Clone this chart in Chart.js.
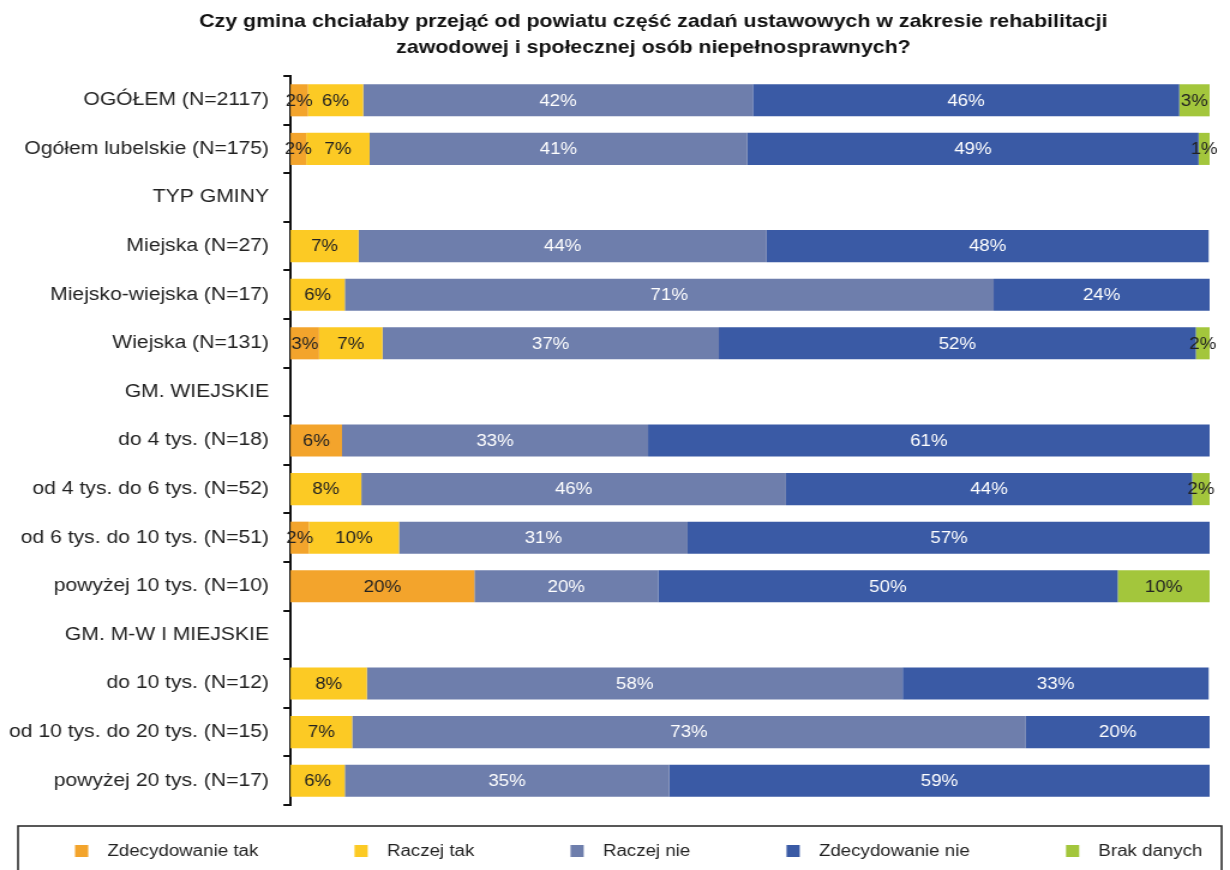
<html>
<head>
    <script src="https://cdn.jsdelivr.net/npm/chart.js"></script>
    <style>
        body { margin: 0; background: #fff; overflow: hidden; }
        /* the reference is drawn a little wide, so the canvas is stretched */
        #myChart { transform: scaleX(1.2); transform-origin: 0 0; }
    </style>
</head>
<body>
    <canvas id="myChart" width="1025" height="870"></canvas>

    <script>
        // categories (empty rows are group headers)
        const categories = [
            'OGÓŁEM (N=2117)',
            'Ogółem lubelskie (N=175)',
            'TYP GMINY',
            'Miejska (N=27)',
            'Miejsko-wiejska (N=17)',
            'Wiejska (N=131)',
            'GM. WIEJSKIE',
            'do 4 tys. (N=18)',
            'od 4 tys. do 6 tys. (N=52)',
            'od 6 tys. do 10 tys. (N=51)',
            'powyżej 10 tys. (N=10)',
            'GM. M-W I MIEJSKIE',
            'do 10 tys. (N=12)',
            'od 10 tys. do 20 tys. (N=15)',
            'powyżej 20 tys. (N=17)'
        ];

        // percent values
        const zdecydowanieTak = [1.9, 1.7, null, 0, 0, 3.1, null, 5.6, 0, 2.0, 20, null, 0, 0, 0];
        const raczejTak = [6.0, 6.9, null, 7.4, 5.9, 6.9, null, 0, 7.7, 9.8, 0, null, 8.3, 6.7, 5.9];
        const raczejNie = [42.4, 41.1, null, 44.4, 70.6, 36.6, null, 33.3, 46.2, 31.4, 20, null, 58.3, 73.3, 35.3];
        const zdecydowanieNie = [46.4, 49.1, null, 48.1, 23.5, 51.9, null, 61.1, 44.2, 56.9, 50, null, 33.3, 20.0, 58.8];
        const brakDanych = [3.3, 1.2, null, 0, 0, 1.5, null, 0, 1.9, 0, 10, null, 0, 0, 0];

        const seriesNames = ['Zdecydowanie tak', 'Raczej tak', 'Raczej nie', 'Zdecydowanie nie', 'Brak danych'];
        const seriesColors = ['#F3A42C', '#FCCA24', '#6E7EAC', '#3A5AA5', '#A3C63C'];
        const labelColors = ['#222', '#222', '#fff', '#fff', '#222'];

        const titleLines = ['Czy gmina chciałaby przejąć od powiatu część zadań ustawowych w zakresie rehabilitacji',
                            'zawodowej i społecznej osób niepełnosprawnych?'];

        const allSeries = [zdecydowanieTak, raczejTak, raczejNie, zdecydowanieNie, brakDanych];
        const FONT = '"Liberation Sans", Arial, sans-serif';

        // title sits a bit right of centre, over the bars
        const titleText = {
            id: 'titleText',
            afterDraw(chart) {
                const ctx = chart.ctx;
                ctx.save();
                ctx.font = 'bold 17.8px ' + FONT;
                ctx.fillStyle = '#111';
                ctx.textAlign = 'center';
                ctx.textBaseline = 'middle';
                const cx = chart.width / 2 + 32;
                titleLines.forEach((t, i) => ctx.fillText(t, cx, 22 + i * 26));
                ctx.restore();
            }
        };

        // percent text in the middle of each segment
        const barLabels = {
            id: 'barLabels',
            afterDatasetsDraw(chart) {
                const ctx = chart.ctx;
                ctx.save();
                ctx.font = '15.6px ' + FONT;
                ctx.textAlign = 'center';
                ctx.textBaseline = 'middle';
                chart.data.datasets.forEach((ds, i) => {
                    const meta = chart.getDatasetMeta(i);
                    meta.data.forEach((bar, j) => {
                        const v = ds.data[j];
                        if (!v) return;
                        const p = bar.getProps(['x', 'y', 'base'], true);
                        ctx.fillStyle = labelColors[i];
                        ctx.fillText(Math.round(v) + '%', (p.x + p.base) / 2, p.y + 1);
                    });
                });
                ctx.restore();
            }
        };

        // legend in an open frame under the plot
        const legendBox = {
            id: 'legendBox',
            afterDraw(chart) {
                const ctx = chart.ctx;
                const top = chart.chartArea.bottom + 21;
                const left = 15, right = chart.width - 7;
                ctx.save();
                ctx.strokeStyle = '#222';
                ctx.lineWidth = 1.5;
                ctx.beginPath();
                ctx.moveTo(left, chart.height + 5);
                ctx.lineTo(left, top);
                ctx.lineTo(right, top);
                ctx.lineTo(right, chart.height + 5);
                ctx.stroke();

                ctx.font = '15.6px ' + FONT;
                ctx.textBaseline = 'middle';
                const textOff = 27;
                const widths = seriesNames.map(n => textOff + ctx.measureText(n).width);
                const x0 = left + 47.5, x1 = right - 16;
                const gap = (x1 - x0 - widths.reduce((a, b) => a + b, 0)) / (seriesNames.length - 1);
                const cy = top + 25;
                let x = x0;
                seriesNames.forEach((n, i) => {
                    ctx.fillStyle = seriesColors[i];
                    ctx.fillRect(x, cy - 6, 11, 12);
                    ctx.fillStyle = '#222';
                    ctx.fillText(n, x + textOff, cy + 1);
                    x += widths[i] + gap;
                });
                ctx.restore();
            }
        };

        const ctx = document.getElementById('myChart').getContext('2d');
        const myChart = new Chart(ctx, {
            type: 'bar',
            data: {
                labels: categories,
                datasets: allSeries.map((d, i) => ({
                    label: seriesNames[i],
                    data: d,
                    backgroundColor: seriesColors[i],
                    borderWidth: 0,
                    barPercentage: 0.66,
                    categoryPercentage: 1
                }))
            },
            options: {
                indexAxis: 'y',
                responsive: false,
                animation: false,
                layout: {
                    padding: { left: -4.5, right: 17, top: 76, bottom: 65 }
                },
                scales: {
                    x: {
                        stacked: true,
                        display: false,
                        min: 0,
                        max: 100
                    },
                    y: {
                        stacked: true,
                        grid: {
                            display: true,
                            drawOnChartArea: false,
                            drawTicks: true,
                            tickLength: 6,
                            offset: true,
                            color: '#111',
                            lineWidth: 2
                        },
                        border: { display: true, color: '#111', width: 2 },
                        ticks: {
                            color: '#222',
                            padding: 12,
                            font: { family: FONT, size: 17.6 }
                        }
                    }
                },
                plugins: {
                    title: { display: false },
                    legend: { display: false },
                    tooltip: { enabled: false }
                }
            },
            plugins: [titleText, barLabels, legendBox]
        });
    </script>
</body>
</html>
